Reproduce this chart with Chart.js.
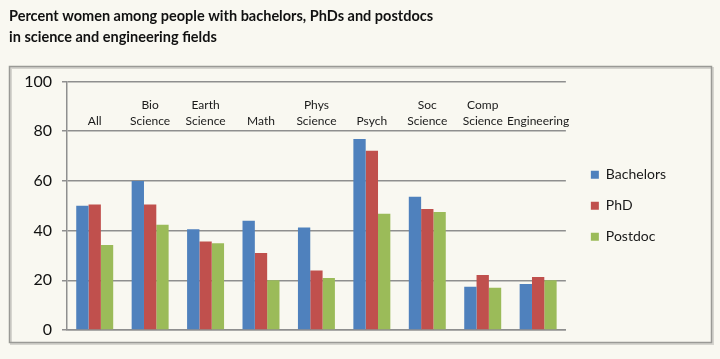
<!DOCTYPE html>
<html>
<head>
<meta charset="utf-8">
<script src="https://cdn.jsdelivr.net/npm/chart.js@4.4.1/dist/chart.umd.min.js"></script>
<style>
  html, body { margin: 0; padding: 0; background: #f9f8f1; }
  #wrap { width: 720px; height: 359px; }
</style>
</head>
<body>
<div id="wrap"><canvas id="chart" width="720" height="359"></canvas></div>
<script>
const categories = [
  ["All"], ["Bio", "Science"], ["Earth", "Science"], ["Math"], ["Phys", "Science"],
  ["Psych"], ["Soc", "Science"], ["Comp", "Science"], ["Engineering"]
];
const bachelors = [50.0, 60.0, 40.5, 44.0, 41.2, 76.9, 53.6, 17.4, 18.5];
const phd = [50.5, 50.5, 35.6, 31.0, 23.9, 72.1, 48.7, 22.1, 21.3];
const postdoc = [34.2, 42.4, 34.9, 20.0, 20.9, 46.8, 47.5, 17.0, 20.0];
const yTicks = [0, 20, 40, 60, 80, 100];

const FONT = "Lato, 'Open Sans', sans-serif";
const GRID = "#8f8f8f";

// background and outer frame
const framePlugin = {
  id: "frame",
  beforeDraw(chart) {
    const ctx = chart.ctx;
    ctx.save();
    ctx.fillStyle = "#f9f8f1";
    ctx.fillRect(0, 0, chart.width, chart.height);
    ctx.strokeStyle = "#d6d5cf";
    ctx.lineWidth = 2;
    ctx.strokeRect(11, 68, 702, 276);
    ctx.strokeStyle = "#9a9a96";
    ctx.lineWidth = 1.5;
    ctx.strokeRect(9.5, 66.5, 702, 276);
    ctx.restore();
  }
};

// category names sit inside the plot, under the top gridline
const catLabels = {
  id: "catLabels",
  afterDraw(chart) {
    const ctx = chart.ctx;
    const x = chart.scales.x;
    const top = chart.chartArea.top;
    ctx.save();
    ctx.font = "12px " + FONT;
    ctx.fillStyle = "#1a1a1a";
    ctx.textAlign = "center";
    ctx.textBaseline = "middle";
    categories.forEach((lines, i) => {
      const cx = x.getPixelForValue(i);
      lines.forEach((t, j) => {
        const y = top + 40 - (lines.length - 1 - j) * 16;
        ctx.fillText(t, cx, y);
      });
    });
    ctx.restore();
  }
};

new Chart(document.getElementById("chart"), {
  type: "bar",
  data: {
    labels: categories.map(c => c.join(" ")),
    datasets: [
      { label: "Bachelors", data: bachelors, backgroundColor: "#4f81bd" },
      { label: "PhD", data: phd, backgroundColor: "#c0504d" },
      { label: "Postdoc", data: postdoc, backgroundColor: "#9bbb59" }
    ]
  },
  options: {
    responsive: false,
    animation: false,
    layout: { padding: { left: 9, right: 44, top: 0, bottom: 21 } },
    datasets: { bar: { categoryPercentage: 0.667, barPercentage: 1.0 } },
    plugins: {
      title: {
        display: true,
        text: ["Percent women among people with bachelors, PhDs and postdocs",
               "in science and engineering fields"],
        align: "start",
        color: "#111",
        font: { family: FONT, size: 14.5, weight: "bold", lineHeight: 1.5 },
        padding: { top: 5, bottom: 33 }
      },
      legend: {
        position: "right",
        fullSize: false,
        labels: {
          boxWidth: 8,
          boxHeight: 8,
          padding: 17,
          color: "#1a1a1a",
          font: { family: FONT, size: 14 }
        }
      },
      tooltip: { enabled: false }
    },
    scales: {
      x: {
        grid: { display: false },
        border: { display: true, color: GRID, width: 1.5 },
        ticks: { display: false }
      },
      y: {
        min: 0,
        max: 100,
        afterBuildTicks: axis => { axis.ticks = yTicks.map(v => ({ value: v })); },
        afterFit: axis => { axis.width = 58; },
        grid: { color: GRID, lineWidth: 1.5, tickLength: 5, drawTicks: true },
        border: { display: true, color: GRID, width: 1.5 },
        ticks: { color: "#111", padding: 10, font: { family: FONT, size: 16 } }
      },
      // empty spacer between plot and legend
      gap: {
        type: "linear",
        position: "right",
        afterFit: axis => { axis.width = 8; },
        grid: { display: false },
        border: { display: false },
        ticks: { display: false }
      }
    }
  },
  plugins: [framePlugin, catLabels]
});
</script>
</body>
</html>
